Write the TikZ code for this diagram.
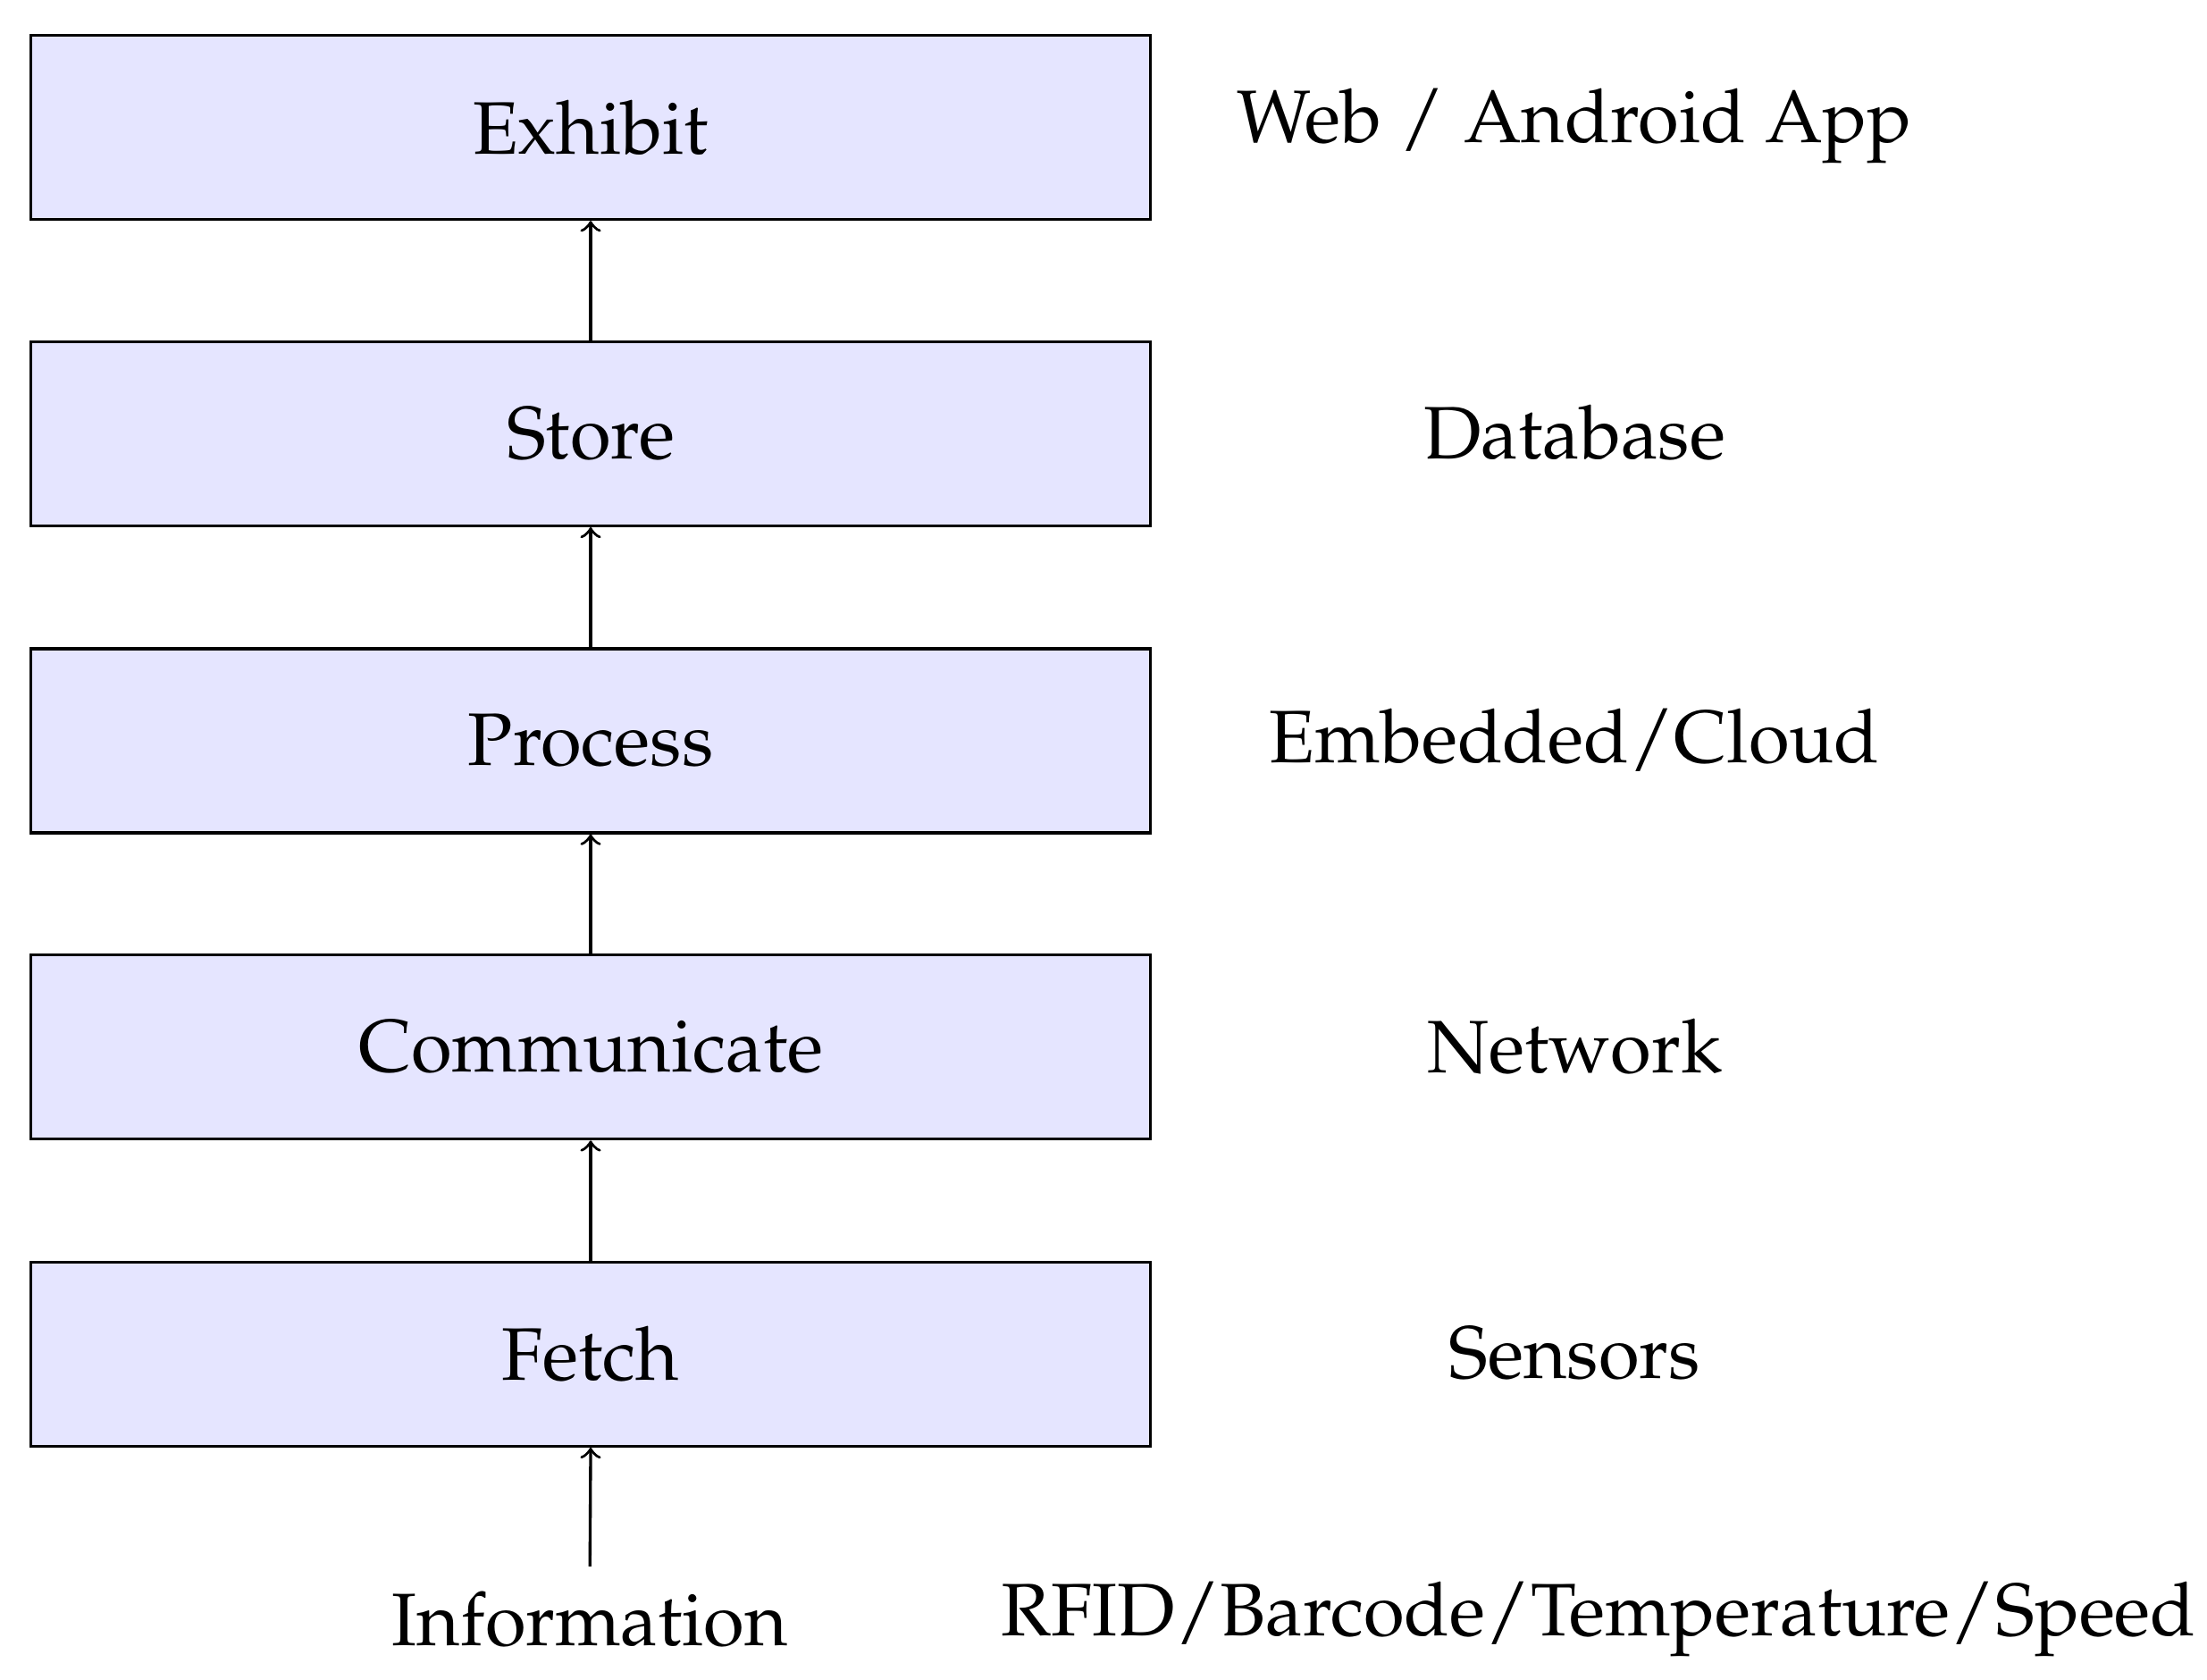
\documentclass[tikz,border=0pt]{standalone}
\usepackage[T1]{fontenc}
\usepackage{mathpazo}
\begin{document}
\begin{tikzpicture}[x=0.01cm,y=-0.01cm,
  box/.style={draw,line width=0.6pt,fill=blue!10,minimum width=7.91cm,minimum height=1.30cm,inner sep=0pt},
  lbl/.style={font=\fontsize{14.95}{18}\selectfont,inner sep=0pt},
  arr/.style={->,line width=0.6pt}]
\useasboundingbox (0,0) rectangle (1560,1187);
\node[box,lbl] (e) at (417.5,90) {Exhibit};
\node[box,lbl] (s) at (417.5,306.5) {Store};
\node[box,lbl] (p) at (417.5,523.5) {Process};
\node[box,lbl] (c) at (417.5,740) {Communicate};
\node[box,lbl] (f) at (417.5,957) {Fetch};
\node[lbl,anchor=base] (i) at (417,1163) {Information};
\coordinate (ia) at (417,1107);
\draw[arr] (ia) -- (f.south);
\draw[arr] (f) -- (c);
\draw[arr] (c) -- (p);
\draw[arr] (p) -- (s);
\draw[arr] (s) -- (e);
\node[lbl,anchor=base] (l1) at (1113,101) {Web / Android App};
\node[lbl,anchor=base] (l2) at (1113,324) {Database};
\node[lbl,anchor=base] (l3) at (1113,539) {Embedded/Cloud};
\node[lbl,anchor=base] (l4) at (1113,758) {Network};
\node[lbl,anchor=base] (l5) at (1113,974) {Sensors};
\node[lbl,anchor=base] (l6) at (1130,1156) {RFID/Barcode/Temperature/Speed};
\end{tikzpicture}
\end{document}
